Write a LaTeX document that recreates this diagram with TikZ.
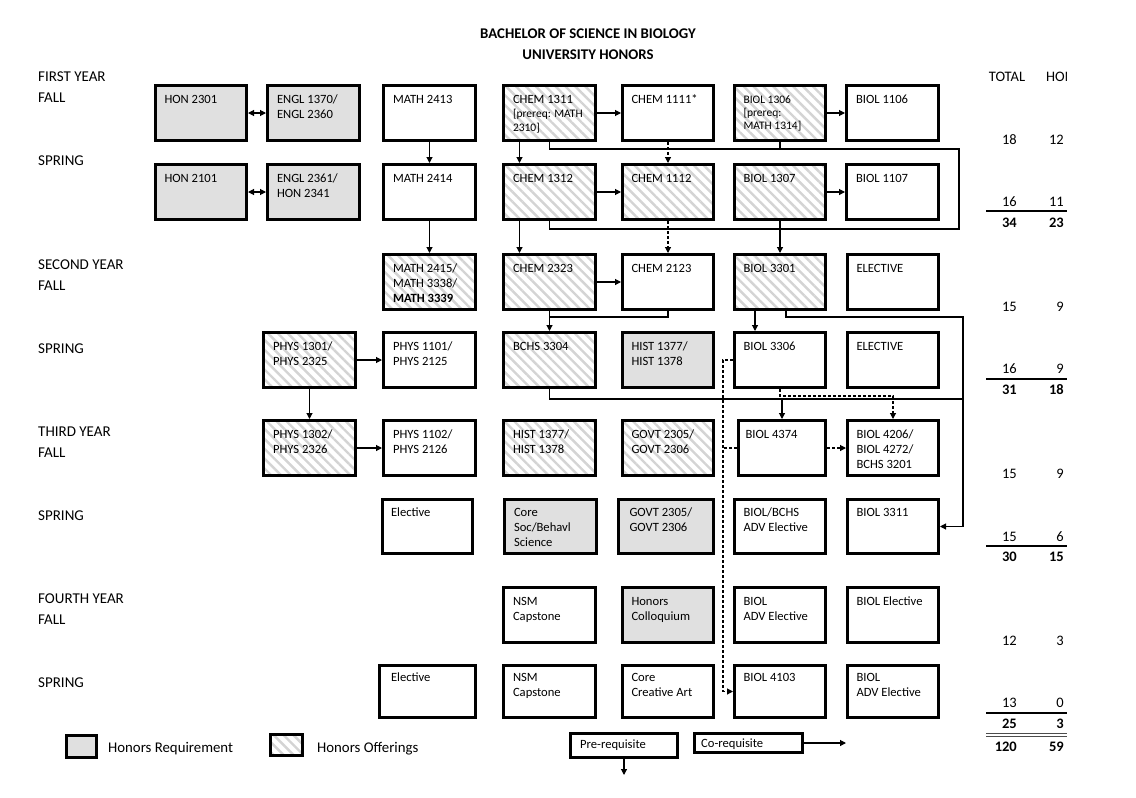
\documentclass[tikz,border=0pt]{standalone}
\usepackage{fontspec}
\setmainfont{Carlito}
\usetikzlibrary{patterns.meta,arrows.meta}
\definecolor{hgray}{RGB}{224,224,224}
\definecolor{hatchc}{RGB}{212,212,212}
\tikzset{
  box/.style={draw=black, line width=2.8pt, rectangle, inner sep=0pt, font=\fontsize{12.6}{15}\selectfont},
  req/.style={fill=hgray},
  off/.style={pattern={Lines[angle=-45,distance=7pt,line width=2.4pt]}, pattern color=hatchc},
  plain/.style={fill=white},
  con/.style={line width=1.1pt, -{Triangle[length=6pt,width=6pt]}},
  dbl/.style={line width=1.1pt, {Triangle[length=6pt,width=6pt]}-{Triangle[length=6pt,width=6pt]}},
  lnk/.style={line width=1.1pt},
  dsh/.style={dash pattern=on 3pt off 2pt},
  lbl/.style={anchor=base west, inner sep=0pt, font=\fontsize{15}{17}\selectfont},
  num/.style={anchor=base east, inner sep=0pt, font=\fontsize{14.5}{17}\selectfont},
  bnum/.style={num, font=\bfseries\fontsize{14.5}{17}\selectfont},
  legtxt/.style={anchor=base west, inner sep=0pt, font=\fontsize{14.8}{17}\selectfont},
}
% name, left, top, right, bottom, style, text
\newcommand\crs[7]{%
  \node[box,#6,minimum width={#4-#2-2.8},minimum height={#5-#3-2.8}] (#1) at ({(#2+#4)/2},{(#3+#5)/2})
    {\parbox[c][38pt][t]{73pt}{\raggedright\rule{0pt}{9pt}#7}};}
\begin{document}
\begin{tikzpicture}[x=1pt,y=-1pt]
\useasboundingbox[fill=white] (0,0) rectangle (1136,798);

% title
\node[anchor=base, inner sep=0pt, font=\bfseries\fontsize{14.8}{17}\selectfont] (title1) at (588,38) {BACHELOR OF SCIENCE IN BIOLOGY};
\node[anchor=base, inner sep=0pt, font=\bfseries\fontsize{14.8}{17}\selectfont] (title2) at (588,59) {UNIVERSITY HONORS};

% row labels
\node[lbl] (l1) at (38,81) {FIRST YEAR};
\node[lbl] (l2) at (38,102) {FALL};
\node[lbl] (l3) at (38,165) {SPRING};
\node[lbl] (l4) at (38,269) {SECOND YEAR};
\node[lbl] (l5) at (38,290) {FALL};
\node[lbl] (l6) at (38,353) {SPRING};
\node[lbl] (l7) at (38,436) {THIRD YEAR};
\node[lbl] (l8) at (38,457) {FALL};
\node[lbl] (l9) at (38,520) {SPRING};
\node[lbl] (l10) at (38,603) {FOURTH YEAR};
\node[lbl] (l11) at (38,624) {FALL};
\node[lbl] (l12) at (38,687) {SPRING};

% row 1
\crs{hon2301}{154}{84}{248}{142}{req}{HON 2301}
\crs{engl1370}{266}{84}{361}{142}{req}{ENGL 1370/\\ENGL 2360}
\crs{math2413}{382}{84}{477}{142}{plain}{MATH 2413}
\crs{chem1311}{502}{84}{597}{142}{off}{\fontsize{11.5}{14}\selectfont{\fontsize{12.6}{14}\selectfont CHEM 1311}\\{}[prereq: MATH\\2310]}
\crs{chem1111}{621}{84}{715}{142}{plain}{CHEM 1111*}
\crs{biol1306}{733}{84}{827}{142}{off}{\fontsize{11.5}{13}\selectfont BIOL 1306\\{}[prereq:\\MATH 1314]}
\crs{biol1106}{845}{84}{940}{142}{plain}{BIOL 1106}

% row 2
\crs{hon2101}{154}{163}{248}{221}{req}{HON 2101}
\crs{engl2361}{266}{163}{361}{221}{req}{ENGL 2361/\\HON 2341}
\crs{math2414}{382}{163}{477}{221}{plain}{MATH 2414}
\crs{chem1312}{502}{163}{597}{221}{off}{CHEM 1312}
\crs{chem1112}{621}{163}{715}{221}{off}{CHEM 1112}
\crs{biol1307}{733}{163}{827}{221}{off}{BIOL 1307}
\crs{biol1107}{845}{163}{940}{221}{plain}{BIOL 1107}

% row 3
\crs{math2415}{382}{253}{477}{311}{off}{MATH 2415/\\MATH 3338/\\\textbf{MATH 3339}}
\crs{chem2323}{502}{253}{597}{311}{off}{CHEM 2323}
\crs{chem2123}{621}{253}{715}{311}{plain}{CHEM 2123}
\crs{biol3301}{733}{253}{827}{311}{off}{BIOL 3301}
\crs{elect1}{846}{253}{940}{311}{plain}{ELECTIVE}

% row 4
\crs{phys1301}{262}{331}{357}{389}{off}{PHYS 1301/\\PHYS 2325}
\crs{phys1101}{382}{331}{477}{389}{plain}{PHYS 1101/\\PHYS 2125}
\crs{bchs3304}{502}{331}{597}{389}{off}{BCHS 3304}
\crs{hista}{621}{331}{715}{389}{req}{HIST 1377/\\HIST 1378}
\crs{biol3306}{733}{331}{827}{389}{plain}{BIOL 3306}
\crs{elect2}{846}{331}{940}{389}{plain}{ELECTIVE}

% row 5
\crs{phys1302}{262}{419}{357}{477}{off}{PHYS 1302/\\PHYS 2326}
\crs{phys1102}{382}{419}{477}{477}{plain}{PHYS 1102/\\PHYS 2126}
\crs{histb}{502}{419}{597}{477}{off}{HIST 1377/\\HIST 1378}
\crs{govta}{621}{419}{715}{477}{off}{GOVT 2305/\\GOVT 2306}
\crs{biol4374}{737}{419}{827}{477}{plain}{BIOL 4374}
\crs{biol4206}{846}{419}{940}{477}{plain}{BIOL 4206/\\BIOL 4272/\\BCHS 3201}

% row 6
\crs{elect3}{381}{498}{474}{555}{plain}{Elective}
\crs{corea}{503}{498}{598}{555}{req}{Core\\Soc/Behavl\\Science}
\crs{govtb}{617}{498}{715}{555}{req}{GOVT 2305/\\GOVT 2306}
\crs{adva}{733}{498}{827}{555}{plain}{BIOL/BCHS\\ADV Elective}
\crs{biol3311}{846}{498}{940}{555}{plain}{BIOL 3311}

% row 7
\crs{nsma}{502}{586}{597}{644}{plain}{NSM\\Capstone}
\crs{coll}{621}{586}{715}{644}{req}{Honors\\Colloquium}
\crs{advb}{733}{586}{827}{644}{plain}{BIOL\\ADV Elective}
\crs{biolel}{846}{586}{940}{644}{plain}{BIOL Elective}

% row 8
\crs{elect4}{378}{664}{477}{719}{plain}{Elective}
\crs{nsmb}{502}{664}{597}{719}{plain}{NSM\\Capstone}
\crs{coreb}{621}{664}{715}{719}{plain}{Core\\Creative Art}
\crs{biol4103}{733}{664}{827}{719}{plain}{BIOL 4103}
\crs{advc}{846}{664}{940}{719}{plain}{BIOL\\ADV Elective}

% connectors rows 1-2
\draw[dbl] (hon2301.east) -- (engl1370.west);
\draw[dbl] (hon2101.east) -- (engl2361.west);
\draw[con] (math2413.south) -- (math2414.north);
\draw[con] (math2414.south) -- (math2415.north);
\draw[con] (chem1311.east) -- (chem1111.west);
\draw[con] (chem1312.east) -- (chem1112.west);
\draw[con] (biol1306.east) -- (biol1106.west);
\draw[con] (biol1307.east) -- (biol1107.west);
\draw[con] ([xshift=-30pt]chem1311.south) -- ([xshift=-30pt]chem1312.north);
\draw[con] ([xshift=-30pt]chem1312.south) -- ([xshift=-30pt]chem2323.north);
\draw[con,dsh] (chem1111.south) -- (chem1112.north);
\draw[con,dsh] (chem1112.south) -- (chem2123.north);
\coordinate (lp1) at (959,149);
\coordinate (lp2) at (959,229);
\draw[lnk] (chem1311.south) |- (lp1) -- (lp2) -| (chem1312.south);
\draw[lnk] (biol1306.south) -- (biol1306.south |- lp1);
\draw[con] (biol1307.south) -- (biol3301.north);

% rows 3-4
\draw[con] (chem2323.east) -- (chem2123.west);
\draw[con] (chem2323.south) -- (bchs3304.north);
\coordinate (j1) at (549.5,317);
\draw[lnk] (chem2123.south) |- (j1);
\draw[con] ([xshift=-25pt]biol3301.south) -- ([xshift=-25pt]biol3306.north);
\coordinate (r1) at (963,317);
\coordinate (r3) at (963,399);
\draw[con] ([xshift=6pt]biol3301.south) |- (r1) |- (biol3311.east);
\draw[lnk] (bchs3304.south) |- (r3);
\draw[con] (biol4374.north |- r3) -- (biol4374.north);
\draw[con,dsh] (biol3306.south) -- ++(0,7) -| (biol4206.north);
\coordinate (d3) at (723,691.5);
\draw[con,dsh] (biol3306.west) -| (d3) -- (biol4103.west);
\draw[lnk,dsh] (biol4374.west) -- (biol4374.west -| d3);
\draw[con,dsh] (biol4374.east) -- (biol4206.west);
\draw[con] (phys1301.east) -- (phys1101.west);
\draw[con] (phys1301.south) -- (phys1302.north);
\draw[con] (phys1302.east) -- (phys1102.west);

% totals
\node[anchor=base, inner sep=0pt, font=\fontsize{14.5}{17}\selectfont] (hdrtot) at (1007,81) {TOTAL};
\begin{scope}
\clip (1040,60) rectangle (1066,90);
\node[anchor=base west, inner sep=0pt, font=\fontsize{14.5}{17}\selectfont] (hdrhon) at (1046,81) {HONORS};
\end{scope}
\node[num] (t1a) at (1017,144) {18}; \node[num] (t1b) at (1064,144) {12};
\node[num] (t2a) at (1017,206) {16}; \node[num] (t2b) at (1064,206) {11};
\draw[line width=1.2pt] (986,211) -- (1067,211);
\node[bnum] (t3a) at (1017,227) {34}; \node[bnum] (t3b) at (1064,227) {23};
\node[num] (t4a) at (1017,311) {15}; \node[num] (t4b) at (1064,311) {9};
\node[num] (t5a) at (1017,373) {16}; \node[num] (t5b) at (1064,373) {9};
\draw[line width=1.2pt] (986,379) -- (1067,379);
\node[bnum] (t6a) at (1017,394) {31}; \node[bnum] (t6b) at (1064,394) {18};
\node[num] (t7a) at (1017,478) {15}; \node[num] (t7b) at (1064,478) {9};
\node[num] (t8a) at (1017,541) {15}; \node[num] (t8b) at (1064,541) {6};
\draw[line width=1.2pt] (986,546) -- (1067,546);
\node[bnum] (t9a) at (1017,561) {30}; \node[bnum] (t9b) at (1064,561) {15};
\node[num] (t10a) at (1017,645) {12}; \node[num] (t10b) at (1064,645) {3};
\node[num] (t11a) at (1017,707) {13}; \node[num] (t11b) at (1064,707) {0};
\draw[line width=1.2pt] (986,713) -- (1067,713);
\node[bnum] (t12a) at (1017,728) {25}; \node[bnum] (t12b) at (1064,728) {3};
\draw[line width=0.9pt, black!70] (986,733.5) -- (1067,733.5);
\draw[line width=0.9pt, black!70] (986,736.5) -- (1067,736.5);
\node[bnum] (t13a) at (1017,751) {120}; \node[bnum] (t13b) at (1064,751) {59};

% legend
\node[box,req,minimum width=30.2,minimum height=22.2] (legreq) at (81.5,746.5) {};
\node[legtxt] (legreqt) at (108,752) {Honors Requirement};
\node[box,off,minimum width=32.2,minimum height=21.2] (legoff) at (286.5,745) {};
\node[legtxt] (legofft) at (317,752) {Honors Offerings};
\node[box,plain,minimum width=107.2,minimum height=24.2] (prereq) at (624,745.5) {};
\node[anchor=base west, inner sep=0pt, font=\fontsize{12.6}{15}\selectfont] (prereqt) at (580,748) {Pre-requisite};
\coordinate (prend) at (624,775);
\draw[con] (prereq.south) -- (prend);
\node[box,plain,minimum width=108.2,minimum height=19.2] (coreq) at (748.5,743) {};
\node[anchor=base west, inner sep=0pt, font=\fontsize{12.6}{15}\selectfont] (coreqt) at (701,747) {Co-requisite};
\coordinate (coend) at (846,743);
\draw[con] (coreq.east) -- (coend);
\end{tikzpicture}
\end{document}
